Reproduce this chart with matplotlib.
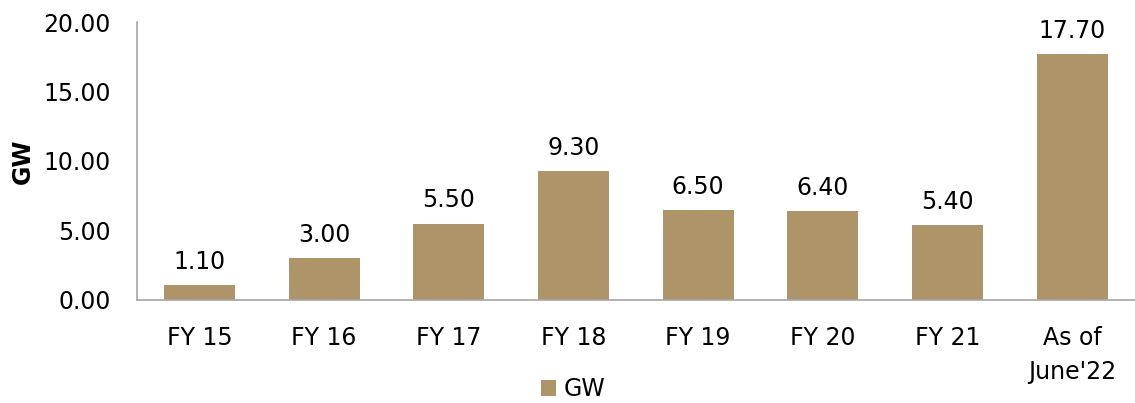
import matplotlib.pyplot as plt
from matplotlib.ticker import MultipleLocator

categories = ["FY 15", "FY 16", "FY 17", "FY 18", "FY 19", "FY 20", "FY 21", "As of\nJune'22"]
gw_values = [1.10, 3.00, 5.50, 9.30, 6.50, 6.40, 5.40, 17.70]

bar_color = "#AD9569"
fs = 17

fig = plt.figure(figsize=(11.35, 4.03), dpi=100)
ax = fig.add_axes([0.1207, 0.2556, 0.879, 0.6898])

x = range(len(categories))
bars = ax.bar(x, gw_values, width=0.57, color=bar_color, label="GW")

for xi, v in zip(x, gw_values):
    ax.annotate(f"{v:.2f}", (xi, v), xytext=(0, 8), textcoords="offset points",
                ha="center", va="bottom", fontsize=fs)

ax.set_xlim(-0.5, len(categories) - 0.5)
ax.set_ylim(0, 20)
ax.yaxis.set_major_locator(MultipleLocator(5))
ax.yaxis.set_major_formatter(lambda v, p: f"{v:.2f}")
ax.set_xticks(list(x))
ax.set_xticklabels(categories, fontsize=fs, linespacing=1.5)
ax.tick_params(axis="y", labelsize=fs, length=0, pad=19)
ax.tick_params(axis="x", length=0, pad=19)
ax.set_ylabel("GW", fontsize=fs, fontweight="bold", labelpad=6)

for s in ["top", "right"]:
    ax.spines[s].set_visible(False)
for s in ["left", "bottom"]:
    ax.spines[s].set_color("#A6A6A6")
    ax.spines[s].set_linewidth(1.2)

# legend centred on the figure, not the axes
fig.legend(handles=[bars], labels=["GW"], loc="lower center",
           bbox_to_anchor=(0.505, 0.005), frameon=False,
           borderaxespad=0, borderpad=0, fontsize=fs,
           handlelength=0.65, handleheight=0.65, handletextpad=0.3)

fig.savefig("out.png", dpi=100)
